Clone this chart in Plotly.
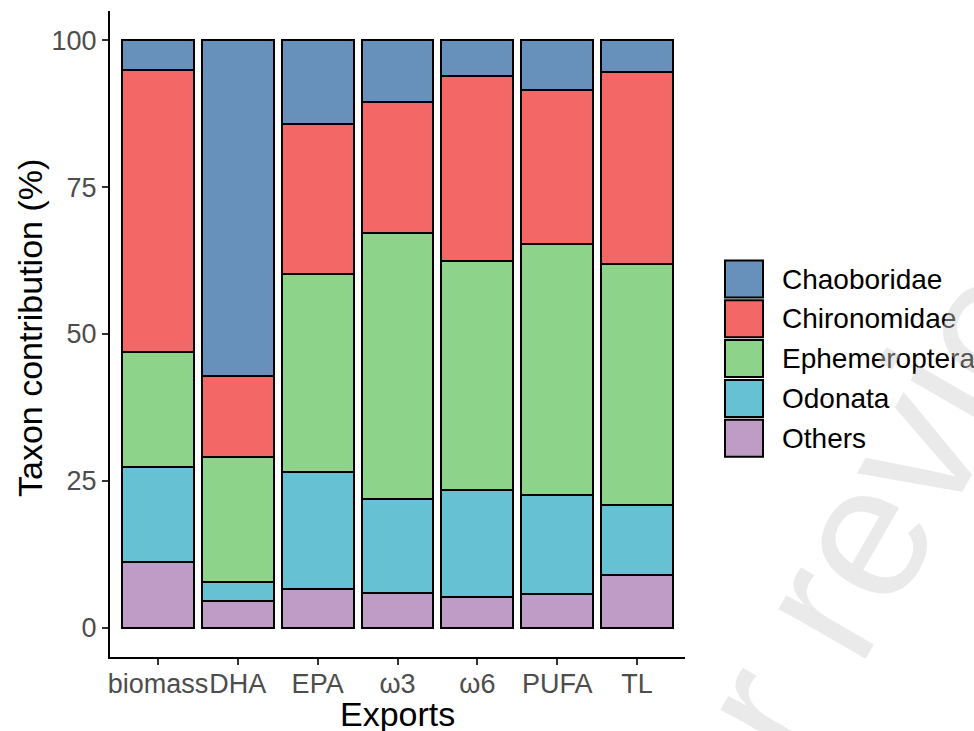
import plotly.graph_objects as go

# ---- data ----
exports = ["biomass", "DHA", "EPA", "ω3", "ω6", "PUFA", "TL"]
taxa = ["Chaoboridae", "Chironomidae", "Ephemeroptera", "Odonata", "Others"]
chaoboridae = [5.0, 57.2, 14.2, 10.5, 6.1, 8.5, 5.4]
chironomidae = [48.1, 13.8, 25.6, 22.3, 31.5, 26.2, 32.7]
ephemeroptera = [19.5, 21.3, 33.7, 45.3, 38.9, 42.7, 41.0]
odonata = [16.3, 3.2, 19.9, 16.0, 18.2, 16.9, 12.0]
others = [11.1, 4.5, 6.6, 5.9, 5.3, 5.7, 8.9]
y_ticks = [0, 25, 50, 75, 100]

values = {
    "Chaoboridae": chaoboridae,
    "Chironomidae": chironomidae,
    "Ephemeroptera": ephemeroptera,
    "Odonata": odonata,
    "Others": others,
}
colors = {
    "Chaoboridae": "#6790BB",
    "Chironomidae": "#F46767",
    "Ephemeroptera": "#8ED38A",
    "Odonata": "#66C1D3",
    "Others": "#BF9CC6",
}

FONT = "Liberation Sans, Arial, sans-serif"
W, H = 974, 731
# plot area in screen pixels: left 110, right 685, top 11, bottom 657
ML, MT = 110, 11
MR = W - 685
MB = H - 657
PW, PH = W - ML - MR, H - MT - MB


def px_x(sx):
    return (sx - ML) / PW


def px_y(sy):
    return (H - MB - sy) / PH


fig = go.Figure()
# stacking order: bottom first
for name in reversed(taxa):
    fig.add_trace(go.Bar(
        x=exports, y=values[name], name=name,
        marker=dict(color=colors[name], line=dict(color="black", width=2)),
        showlegend=False,
    ))

# legend drawn as shapes + text
shapes = []
annotations = []
key_x0, key_x1 = 725, 763
key_top0, key_step, key_h = 260.5, 39.8, 37
for i, name in enumerate(taxa):
    top = key_top0 + i * key_step
    shapes.append(dict(
        type="rect", xref="paper", yref="paper",
        x0=px_x(key_x0), x1=px_x(key_x1),
        y0=px_y(top + key_h), y1=px_y(top),
        fillcolor=colors[name], line=dict(color="black", width=2),
    ))
    annotations.append(dict(
        text=name, xref="paper", yref="paper",
        x=px_x(780), y=px_y(top + key_h / 2),
        xanchor="left", yanchor="middle", showarrow=False,
        font=dict(family=FONT, size=28, color="black"),
    ))

# axis titles
annotations.append(dict(
    text="Exports", xref="paper", yref="paper",
    x=px_x(397), y=px_y(714), xanchor="center", yanchor="middle",
    showarrow=False, font=dict(family=FONT, size=34, color="black"),
))
annotations.append(dict(
    text="Taxon contribution (%)", xref="paper", yref="paper",
    x=px_x(30), y=px_y(328), xanchor="center", yanchor="middle",
    textangle=-90, showarrow=False,
    font=dict(family=FONT, size=34, color="black"),
))

# watermark
annotations.append(dict(
    text="For review only", xref="paper", yref="paper",
    x=px_x(955), y=px_y(372), xanchor="center", yanchor="middle",
    textangle=-60, showarrow=False,
    font=dict(family=FONT, size=190, color="rgba(205,205,205,0.42)"),
))

fig.update_layout(
    width=W, height=H,
    margin=dict(l=ML, r=MR, t=MT, b=MB, pad=0, autoexpand=False),
    barmode="stack", bargap=0.1,
    plot_bgcolor="white", paper_bgcolor="white",
    font=dict(family=FONT),
    shapes=shapes, annotations=annotations,
    showlegend=False,
)
fig.update_xaxes(
    type="category", range=[-0.6, 6.6], automargin=False, tickangle=0,
    ticklabelstandoff=-4,
    showline=True, linecolor="black", linewidth=2, mirror=False,
    ticks="outside", ticklen=6, tickwidth=2, tickcolor="#333333",
    tickfont=dict(family=FONT, size=27, color="#4D4D4D"),
    showgrid=False, zeroline=False,
)
fig.update_yaxes(
    range=[-5, 105], tickvals=y_ticks, ticktext=[str(v) for v in y_ticks],
    automargin=False,
    showline=True, linecolor="black", linewidth=2, mirror=False,
    ticks="outside", ticklen=6, tickwidth=2, tickcolor="#333333",
    tickfont=dict(family=FONT, size=27, color="#4D4D4D"),
    showgrid=False, zeroline=False,
)

fig.write_html(
    "out.html",
    config={"displayModeBar": False},
    post_script="document.body.style.margin='0';document.body.style.overflow='hidden';",
)
